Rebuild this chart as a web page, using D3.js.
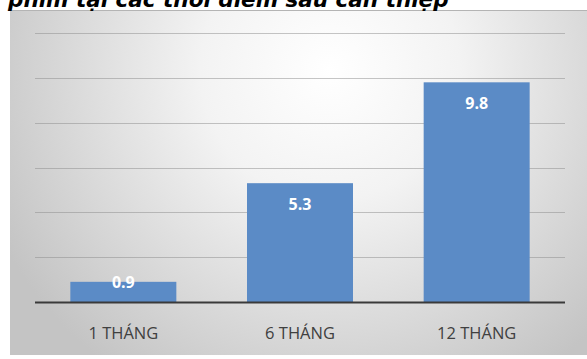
<!DOCTYPE html>
<html>
<head>
<meta charset="utf-8">
<script src="https://cdn.jsdelivr.net/npm/d3@7"></script>
<style>
  html, body { margin: 0; padding: 0; background: #ffffff; }
  svg { display: block; }
</style>
</head>
<body>
<svg id="chart" width="587" height="359"></svg>
<script>
// Mean values at each follow-up time point
const categories = ["1 THÁNG", "6 THÁNG", "12 THÁNG"];
const values = [0.9, 5.3, 9.8];
const yTicks = [0, 2, 4, 6, 8, 10, 12];
const title = "phim tại các thời điểm sau can thiệp";

const svg = d3.select("#chart");

// Panel background: soft radial shading, light near top centre
const defs = svg.append("defs");
const grad = defs.append("radialGradient")
  .attr("id", "panelBg")
  .attr("gradientUnits", "userSpaceOnUse")
  .attr("cx", 330).attr("cy", 70).attr("r", 370);
grad.append("stop").attr("offset", "0%").attr("stop-color", "#ffffff");
grad.append("stop").attr("offset", "35%").attr("stop-color", "#f3f3f3");
grad.append("stop").attr("offset", "75%").attr("stop-color", "#d6d6d6");
grad.append("stop").attr("offset", "100%").attr("stop-color", "#c4c4c4");

const panel = { x: 10, y: 10, w: 577, h: 345 };
svg.append("rect")
  .attr("x", panel.x).attr("y", panel.y)
  .attr("width", panel.w).attr("height", panel.h)
  .attr("fill", "url(#panelBg)");
svg.append("line")
  .attr("x1", panel.x).attr("x2", panel.x + panel.w)
  .attr("y1", panel.y + 0.5).attr("y2", panel.y + 0.5)
  .attr("stroke", "#b4b4b4").attr("stroke-width", 1);

// Title (its upper half runs past the top edge)
svg.append("text")
  .attr("x", 8).attr("y", 7)
  .attr("font-family", "DejaVu Sans, Verdana, sans-serif")
  .attr("font-weight", "bold").attr("font-style", "italic")
  .attr("font-size", 21.5)
  .attr("fill", "#000")
  .text(title);

// Scales
const plot = { left: 35, right: 565, top: 33, bottom: 302 };
const x = d3.scaleBand()
  .domain(categories)
  .range([plot.left, plot.right])
  .paddingInner(0.4)
  .paddingOuter(0.2);
const y = d3.scaleLinear()
  .domain([0, 12])
  .range([plot.bottom, plot.top]);

// Horizontal gridlines
svg.append("g")
  .selectAll("line")
  .data(yTicks.filter(d => d > 0))
  .join("line")
  .attr("x1", plot.left).attr("x2", plot.right)
  .attr("y1", d => Math.round(y(d)) + 0.5).attr("y2", d => Math.round(y(d)) + 0.5)
  .attr("stroke", "#8c8c8c").attr("stroke-opacity", 0.5)
  .attr("stroke-width", 1.2);

// Bars
svg.append("g")
  .selectAll("rect")
  .data(values)
  .join("rect")
  .attr("x", (d, i) => x(categories[i]))
  .attr("width", x.bandwidth())
  .attr("y", d => y(d))
  .attr("height", d => y(0) - y(d))
  .attr("fill", "#5b8bc6");

// Category axis line
svg.append("line")
  .attr("x1", plot.left).attr("x2", plot.right)
  .attr("y1", y(0) + 0.5).attr("y2", y(0) + 0.5)
  .attr("stroke", "#3a3a3a").attr("stroke-width", 2);

// Value labels inside the bar tops
svg.append("g")
  .selectAll("text")
  .data(values)
  .join("text")
  .attr("x", (d, i) => x(categories[i]) + x.bandwidth() / 2)
  .attr("y", d => Math.min(y(d) + 21, y(0) - 20))
  .attr("dy", "0.35em")
  .attr("text-anchor", "middle")
  .attr("font-family", "Open Sans, sans-serif")
  .attr("font-weight", "bold")
  .attr("font-size", 16)
  .attr("fill", "#ffffff")
  .text(d => d.toFixed(1));

// Category labels
const xAxis = svg.append("g")
  .attr("transform", `translate(0,${plot.bottom})`)
  .call(d3.axisBottom(x).tickSize(0).tickPadding(0));
xAxis.select(".domain").remove();
xAxis.selectAll("text")
  .attr("y", 31)
  .attr("dy", "0.35em")
  .attr("font-family", "Open Sans, sans-serif")
  .attr("font-size", 16.5)
  .attr("fill", "#404040");
</script>
</body>
</html>
